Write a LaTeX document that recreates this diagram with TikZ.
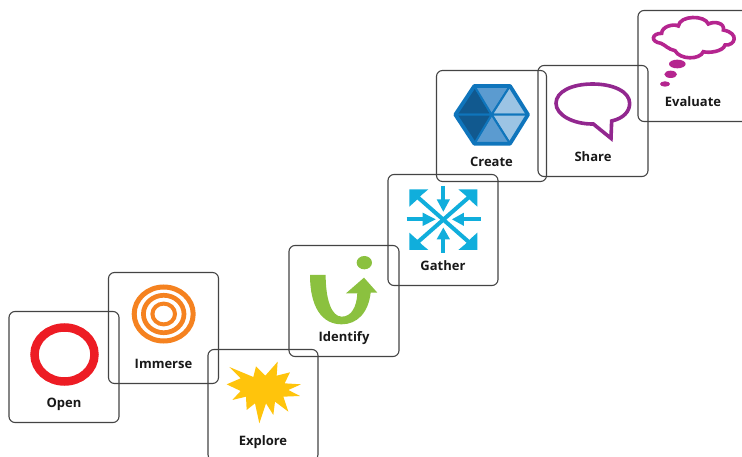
\documentclass[tikz,border=0pt]{standalone}
\usepackage{fontspec}
\setmainfont{Open Sans}
\usetikzlibrary{positioning}
\definecolor{boxline}{HTML}{444444}
\definecolor{openred}{HTML}{ED1C24}
\definecolor{immorange}{HTML}{F58220}
\definecolor{expyellow}{HTML}{FFC40C}
\definecolor{idgreen}{HTML}{8BC13F}
\definecolor{gathblue}{HTML}{10AEDC}
\definecolor{hexblue}{HTML}{0F75BC}
\definecolor{hexdark}{HTML}{11598F}
\definecolor{hexmid}{HTML}{5B9BD0}
\definecolor{hexlight}{HTML}{9CC4E4}
\definecolor{sharepurple}{HTML}{92278F}
\definecolor{evalpink}{HTML}{B5258F}
\tikzset{
  stepbox/.style={draw=boxline, line width=1.1pt, rounded corners=6pt, minimum width=110pt, minimum height=111pt},
  steplabel/.style={inner sep=0pt, text height=10pt, text depth=3pt, font=\bfseries\fontsize{13}{13}\selectfont, text=black!90},
  tiny/.style={x=.3333pt, y=-.3333pt},
}
\begin{document}
\begin{tikzpicture}[x=1pt,y=-1pt]
    \path[use as bounding box, clip] (0,0) rectangle (742,457);
    \fill[white] (0,0) rectangle (742,457);
    % cards
    \node [stepbox] (open) at (64,367) {};
    \node [stepbox] (immerse) at (163.5,328) {};
    \node [stepbox] (explore) at (263,405) {};
    \node [stepbox] (identify) at (344,301) {};
    \node [stepbox] (gather) at (443,230) {};
    \node [stepbox] (create) at (491.5,126) {};
    \node [stepbox] (share) at (593,121) {};
    \node [stepbox] (evaluate) at (693,66) {};
    % names
    \node [steplabel, above=12.5pt of open.south] (openname) {Open};
    \node [steplabel, above=12.5pt of immerse.south] (immersename) {Immerse};
    \node [steplabel, above=12.5pt of explore.south] (explorename) {Explore};
    \node [steplabel, above=12.5pt of identify.south] (identifyname) {Identify};
    \node [steplabel, above=12.5pt of gather.south] (gathername) {Gather};
    \node [steplabel, above=12.5pt of create.south] (createname) {Create};
    \node [steplabel, above=12.5pt of share.south] (sharename) {Share};
    \node [steplabel, above=12.5pt of evaluate.south] (evaluatename) {Evaluate};
    % open
    \draw [openred, line width=8.5pt] (64.5,354.5) ellipse [x radius=30, y radius=27];
    % immerse
    \begin{scope}[immorange]
        \draw [line width=5pt] (163.7,314) ellipse [x radius=29.5, y radius=27];
        \draw [line width=4.7pt] (163.7,314) ellipse [x radius=20.3, y radius=18.7];
        \draw [line width=4pt] (163.7,314) ellipse [x radius=11.3, y radius=10.4];
    \end{scope}
    % explore
    \begin{scope}[shift={(220,355)}, tiny]
        \fill [expyellow] (20,88) -- (62,70) -- (28,36) -- (100,66) -- (108,34) -- (136,62) -- (173,20) -- (170,62) -- (210,52) -- (194,85) -- (243,88) -- (205,105) -- (240,123) -- (190,125) -- (205,170) -- (165,140) -- (160,180) -- (138,145) -- (118,205) -- (105,145) -- (80,165) -- (78,125) -- (37,135) -- (62,108) -- cycle;
    \end{scope}
    % identify
    \begin{scope}[shift={(300,250)}, tiny]
        \fill [idgreen] (30,75) -- (77,75) .. controls (77,150) and (95,200) .. (125,200) .. controls (155,200) and (170,170) .. (172,130) -- (138,130) -- (192,83) -- (232,128) -- (212,128) .. controls (205,190) and (170,223) .. (125,223) .. controls (65,223) and (30,170) .. (30,75) -- cycle;
        \fill [idgreen] (193,38) ellipse [x radius=23, y radius=20];
    \end{scope}
    % gather
    \begin{scope}[shift={(400,180)}, tiny, gathblue]
        \draw [line width=4pt] (40,40) -- (220,198);
        \draw [line width=4pt] (220,40) -- (40,198);
        \fill (28,28) -- (85,28) -- (66,44) -- (48,62) -- (28,80) -- cycle;
        \fill (232,28) -- (175,28) -- (194,44) -- (212,62) -- (232,80) -- cycle;
        \fill (28,210) -- (85,210) -- (66,194) -- (48,176) -- (28,158) -- cycle;
        \fill (232,210) -- (175,210) -- (194,194) -- (212,176) -- (232,158) -- cycle;
        \draw [line width=4pt] (130,18) -- (130,60);
        \fill (110,58) -- (150,58) -- (130,95) -- cycle;
        \draw [line width=4pt] (20,118) -- (70,118);
        \fill (68,98) -- (68,138) -- (107,118) -- cycle;
        \draw [line width=4pt] (243,118) -- (190,118);
        \fill (192,98) -- (192,138) -- (156,118) -- cycle;
        \draw [line width=4pt] (130,218) -- (130,176);
        \fill (110,178) -- (150,178) -- (130,143) -- cycle;
    \end{scope}
    % create
    \begin{scope}[shift={(445,78)}, tiny]
        \begin{scope}[draw=hexblue, line width=2pt, line join=round]
            \filldraw [fill=hexdark] (31,110) -- (88,24) -- (140,110) -- cycle;
            \filldraw [fill=hexmid] (88,24) -- (195,24) -- (140,110) -- cycle;
            \filldraw [fill=hexlight] (195,24) -- (249,110) -- (140,110) -- cycle;
            \filldraw [fill=hexlight] (249,110) -- (195,197) -- (140,110) -- cycle;
            \filldraw [fill=hexmid] (195,197) -- (88,197) -- (140,110) -- cycle;
            \filldraw [fill=hexdark] (88,197) -- (31,110) -- (140,110) -- cycle;
            \draw [line width=3.8pt] (31,110) -- (88,24) -- (195,24) -- (249,110) -- (195,197) -- (88,197) -- cycle;
        \end{scope}
    \end{scope}
    % share
    \begin{scope}[shift={(545,75)}, tiny]
        \draw [sharepurple, line width=3.6pt] (200,138) .. controls (235,130) and (254,110) .. (254,85) .. controls (254,50) and (205,27) .. (143,27) .. controls (80,27) and (33,50) .. (33,85) .. controls (33,120) and (85,148) .. (145,147) -- (198,190) -- cycle;
    \end{scope}
    % evaluate
    \begin{scope}[shift={(645,10)}, tiny, evalpink]
        \draw [line width=3.6pt] (48,100) .. controls (15,95) and (20,70) .. (50,70) .. controls (50,50) and (85,40) .. (100,48) .. controls (105,15) and (180,15) .. (190,42) .. controls (210,32) and (240,40) .. (235,60) .. controls (285,70) and (270,108) .. (240,105) .. controls (235,125) and (190,130) .. (175,125) .. controls (165,150) and (105,150) .. (90,122) .. controls (70,118) and (60,105) .. (48,100) -- cycle;
        \fill (97,162) ellipse [x radius=25, y radius=13];
        \fill (77,193) ellipse [x radius=19, y radius=11];
        \fill (60,222) ellipse [x radius=15, y radius=8];
    \end{scope}
\end{tikzpicture}
\end{document}
